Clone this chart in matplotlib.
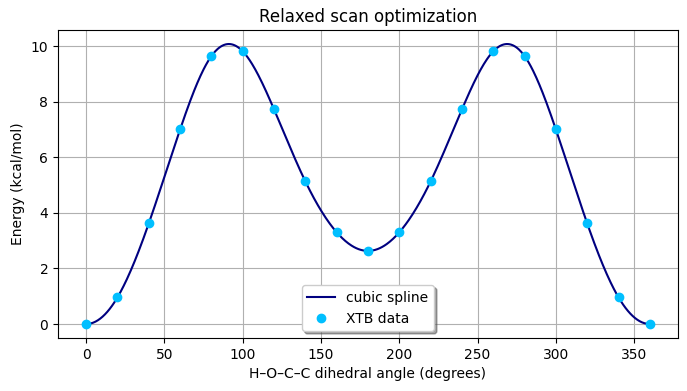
import numpy as np
import matplotlib as mpl
mpl.use('Agg')
import matplotlib.pyplot as plt

# XTB relaxed scan data
angles = [0, 20, 40, 60, 80, 100, 120, 140, 160, 180,
          200, 220, 240, 260, 280, 300, 320, 340, 360]
energies = [0.0, 0.96, 3.62, 7.0, 9.64, 9.81, 7.72, 5.13, 3.30, 2.63,
            3.30, 5.13, 7.72, 9.81, 9.64, 7.0, 3.62, 0.96, 0.0]


def periodic_spline(x, y, xs):
    # cubic spline with periodic ends, uniform spacing
    x = np.asarray(x, float)
    y = np.asarray(y, float)
    n = len(x) - 1
    h = x[1] - x[0]
    A = np.zeros((n, n))
    b = np.zeros(n)
    for i in range(n):
        A[i, (i - 1) % n] = 1
        A[i, i] = 4
        A[i, (i + 1) % n] = 1
        b[i] = 6 / h**2 * (y[(i - 1) % n] - 2 * y[i] + y[(i + 1) % n])
    M = np.linalg.solve(A, b)
    M = np.append(M, M[0])
    idx = np.clip(((xs - x[0]) // h).astype(int), 0, n - 1)
    x0 = x[idx]
    x1 = x[idx + 1]
    t0 = x1 - xs
    t1 = xs - x0
    return (M[idx] * t0**3 / (6 * h) + M[idx + 1] * t1**3 / (6 * h)
            + (y[idx] / h - M[idx] * h / 6) * t0
            + (y[idx + 1] / h - M[idx + 1] * h / 6) * t1)


xs = np.linspace(0, 360, 721)
ys = periodic_spline(angles, energies, xs)

dpi = 100
fig = plt.figure(figsize=(687 / dpi, 391 / dpi), dpi=dpi)
ax = fig.add_axes([0.0844, 0.1355, 0.9025, 0.7877])
ax.plot(xs, ys, color='navy', label='cubic spline', zorder=2)
ax.plot(angles, energies, 'o', color='deepskyblue', label='XTB data', zorder=3)
ax.set_title('Relaxed scan optimization')
ax.set_xlabel('H\u2013O\u2013C\u2013C dihedral angle (degrees)')
ax.set_ylabel('Energy (kcal/mol)')
ax.grid(True)
ax.set_axisbelow(True)
ax.legend(loc='lower center', shadow=True)
fig.savefig('out.png', dpi=dpi)
